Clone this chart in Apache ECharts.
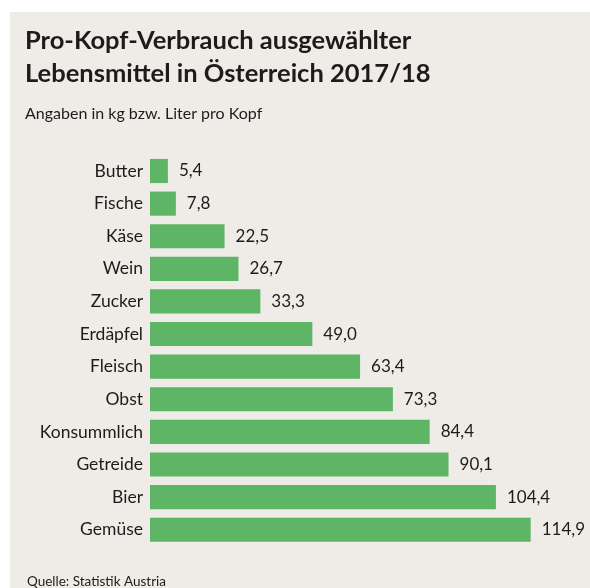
<!DOCTYPE html>
<html>
<head>
<meta charset="utf-8">
<script src="https://cdn.jsdelivr.net/npm/echarts@6/dist/echarts.min.js"></script>
<style>
  html, body { margin: 0; padding: 0; background: #ffffff; }
  #chart { width: 590px; height: 588px; }
</style>
</head>
<body>
<div id="chart"></div>
<script>
// Pro-Kopf-Verbrauch in kg bzw. Liter
const categories = ['Butter', 'Fische', 'Käse', 'Wein', 'Zucker', 'Erdäpfel', 'Fleisch', 'Obst', 'Konsummlich', 'Getreide', 'Bier', 'Gemüse'];
const values = [5.4, 7.8, 22.5, 26.7, 33.3, 49.0, 63.4, 73.3, 84.4, 90.1, 104.4, 114.9];

const FONT = 'Lato, "Open Sans", sans-serif';
const TEXT = '#1c1c1c';

const chart = echarts.init(document.getElementById('chart'), null, { renderer: 'canvas' });
chart.setOption({
  backgroundColor: '#ffffff',
  animation: false,
  graphic: [
    { type: 'rect', z: -10, shape: { x: 10, y: 12, width: 580, height: 576 }, style: { fill: '#efebe7' } },
    { type: 'text', left: 25, top: 24, style: { text: 'Pro-Kopf-Verbrauch ausgewählter\nLebensmittel in Österreich 2017/18', font: 'bold 25.5px ' + FONT, fill: TEXT, lineHeight: 33.5 } },
    { type: 'text', left: 25, top: 106, style: { text: 'Angaben in kg bzw. Liter pro Kopf', font: '16px ' + FONT, fill: TEXT } },
    { type: 'text', left: 27, top: 575, style: { text: 'Quelle: Statistik Austria', font: '13.5px ' + FONT, fill: TEXT } }
  ],
  grid: { left: 150, right: 42.4, top: 154.7, bottom: 42, containLabel: false },
  xAxis: { type: 'value', min: 0, max: 120, show: false },
  yAxis: {
    type: 'category', data: categories, inverse: true,
    axisLine: { show: false }, axisTick: { show: false },
    axisLabel: { color: TEXT, fontSize: 17.5, fontFamily: FONT, margin: 7 }
  },
  series: [{
    type: 'bar', data: values, barCategoryGap: '26%',
    itemStyle: { color: '#5eb565' },
    label: {
      show: true, position: 'right', distance: 11, color: TEXT, fontSize: 17, fontFamily: FONT,
      formatter: p => p.value.toFixed(1).replace('.', ',')
    }
  }]
});
</script>
</body>
</html>
